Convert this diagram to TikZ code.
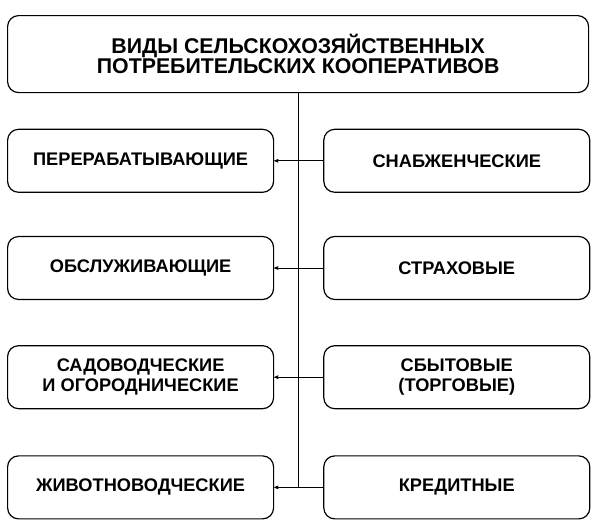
\documentclass[tikz,border=0pt]{standalone}
\usepackage{fontspec}
\setmainfont{Liberation Sans}
\usetikzlibrary{arrows,positioning}

\begin{document}
\begin{tikzpicture}[>=stealth',semithick]

            \tikzstyle{kind}=[draw=black,line width=1.2pt,rounded corners=11bp,align=center,
                              minimum width=266bp,minimum height=63bp,inner sep=0pt,
                              font=\fontsize{18.3}{20}\selectfont\bfseries]
            \tikzstyle{head}=[kind,minimum width=581bp,minimum height=77bp,
                              font=\fontsize{21.4}{18.4}\selectfont\bfseries]

            \useasboundingbox (0,0) rectangle (597bp,-525bp);

            \node[head,anchor=north west] (top) at (7bp,-15bp)
                {ВИДЫ СЕЛЬСКОХОЗЯЙСТВЕННЫХ\\ПОТРЕБИТЕЛЬСКИХ КООПЕРАТИВОВ};

            \node[kind] (proc)  [below right=35.5bp and 0bp of top.south west] {ПЕРЕРАБАТЫВАЮЩИЕ};
            \node[kind] (serv)  [below=43bp of proc]  {ОБСЛУЖИВАЮЩИЕ};
            \node[kind] (garden)[below=45bp of serv]  {САДОВОДЧЕСКИЕ\\И ОГОРОДНИЧЕСКИЕ};
            \node[kind] (cattle)[below=46bp of garden]{ЖИВОТНОВОДЧЕСКИЕ};

            \node[kind] (supply)[right=49bp of proc]   {СНАБЖЕНЧЕСКИЕ};
            \node[kind] (insur) [right=49bp of serv]   {СТРАХОВЫЕ};
            \node[kind] (sales) [right=49bp of garden] {СБЫТОВЫЕ\\(ТОРГОВЫЕ)};
            \node[kind] (credit)[right=49bp of cattle] {КРЕДИТНЫЕ};

            % trunk
            \draw (top.south) -- (top.south |- cattle.east);

            \draw[->] (top.south |- proc.east)   -- (proc.east);
            \draw[->] (top.south |- serv.east)   -- (serv.east);
            \draw[->] (top.south |- garden.east) -- (garden.east);
            \draw[->] (top.south |- cattle.east) -- (cattle.east);

            \draw (top.south |- supply.west) -- (supply.west);
            \draw (top.south |- insur.west)  -- (insur.west);
            \draw (top.south |- sales.west)  -- (sales.west);
            \draw (top.south |- credit.west) -- (credit.west);
        \end{tikzpicture}
\end{document}
